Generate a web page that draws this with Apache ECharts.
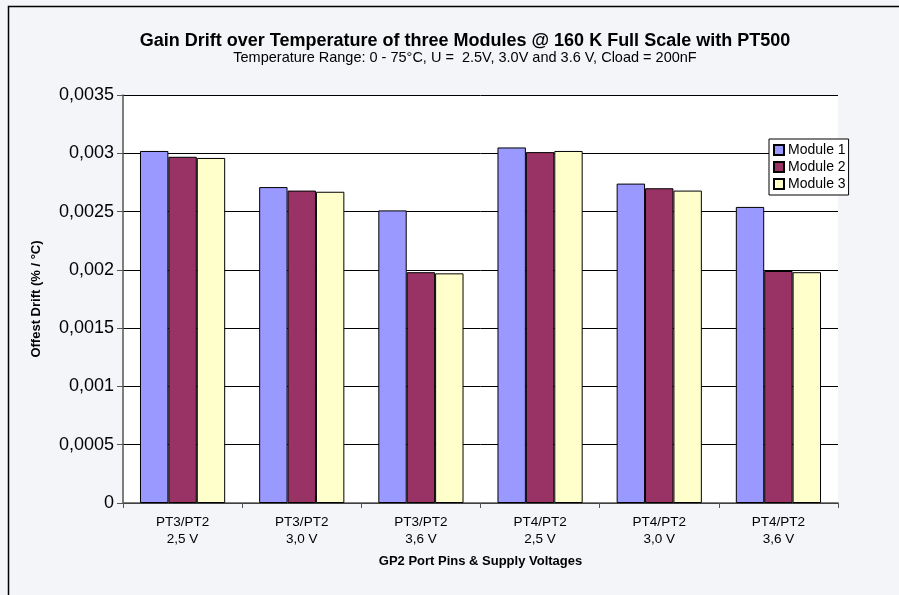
<!DOCTYPE html>
<html>
<head>
<meta charset="utf-8">
<script src="https://cdn.jsdelivr.net/npm/echarts@6/dist/echarts.min.js"></script>
<style>
html,body{margin:0;padding:0;background:#f4f5f9;}
#c{width:899px;height:595px;}
</style>
</head>
<body>
<div id="c"></div>
<script>
const categories = ['PT3/PT2\n2,5 V','PT3/PT2\n3,0 V','PT3/PT2\n3,6 V','PT4/PT2\n2,5 V','PT4/PT2\n3,0 V','PT4/PT2\n3,6 V'];
const module1 = [0.00302, 0.00271, 0.00251, 0.00305, 0.00274, 0.00254];
const module2 = [0.00297, 0.00268, 0.00198, 0.00301, 0.00270, 0.00199];
const module3 = [0.00296, 0.00267, 0.00197, 0.00302, 0.00268, 0.00198];
const seriesNames = ['Module 1','Module 2','Module 3'];

const chart = echarts.init(document.getElementById('c'));
const font = 'Arial, "Liberation Sans", sans-serif';
const barStyle = c => ({color: c, borderColor: '#000', borderWidth: 1});
chart.setOption({
  backgroundColor: '#f4f5f9',
  animation: false,
  graphic: [{type:'rect', shape:{x:8.5,y:6.5,width:1000,height:1000}, style:{fill:'none', stroke:'#000', lineWidth:1.5}, z:-1}],
  title: {
    text: 'Gain Drift over Temperature of three Modules @ 160 K Full Scale with PT500',
    subtext: 'Temperature Range: 0 - 75°C, U =  2.5V, 3.0V and 3.6 V, Cload = 200nF',
    left: 460, top: 27, textAlign: 'center', itemGap: 0,
    textStyle: {fontFamily: font, fontSize: 18, fontWeight: 'bold', color: '#000'},
    subtextStyle: {fontFamily: font, fontSize: 14.5, color: '#000'}
  },
  legend: {
    orient: 'vertical', left: 769, top: 139,
    itemWidth: 10, itemHeight: 10, itemGap: 3,
    backgroundColor: '#fff', borderColor: '#000', borderWidth: 1,
    padding: [4, 3, 4, 4],
    textStyle: {fontFamily: font, fontSize: 14, color: '#000', padding: [0,0,0,-1]},
    data: seriesNames.map(n => ({name: n, icon: 'rect'}))
  },
  grid: {left: 123, right: 61, top: 95, bottom: 92, show: true, backgroundColor: '#fff', borderWidth: 0},
  xAxis: {
    type: 'category', data: categories,
    name: 'GP2 Port Pins & Supply Voltages', nameLocation: 'middle', nameGap: 52,
    nameTextStyle: {fontFamily: font, fontSize: 13, fontWeight: 'bold', color: '#000'},
    axisLine: {lineStyle: {color: '#555', width: 1.5}},
    axisTick: {show: true, length: 5, lineStyle: {color: '#555'}},
    axisLabel: {fontFamily: font, fontSize: 13.5, color: '#000', lineHeight: 17, margin: 11}
  },
  yAxis: {
    type: 'value', min: 0, max: 0.0035, interval: 0.0005,
    name: 'Offest Drift (% / °C)', nameLocation: 'middle', nameGap: 80,
    nameTextStyle: {fontFamily: font, fontSize: 13, fontWeight: 'bold', color: '#000'},
    axisLine: {show: true, lineStyle: {color: '#555', width: 1.5}},
    axisTick: {show: true, length: 6, lineStyle: {color: '#555'}},
    axisLabel: {fontFamily: font, fontSize: 18, color: '#000', margin: 9,
      formatter: v => String(+v.toFixed(5)).replace('.', ',')},
    splitLine: {lineStyle: {color: '#000', width: 1}}
  },
  series: [
    {name: seriesNames[0], type: 'bar', data: module1, barGap: '0%', barCategoryGap: '28.5%', itemStyle: barStyle('#9999ff')},
    {name: seriesNames[1], type: 'bar', data: module2, itemStyle: barStyle('#993366')},
    {name: seriesNames[2], type: 'bar', data: module3, itemStyle: barStyle('#ffffcc')}
  ]
});
</script>
</body>
</html>
